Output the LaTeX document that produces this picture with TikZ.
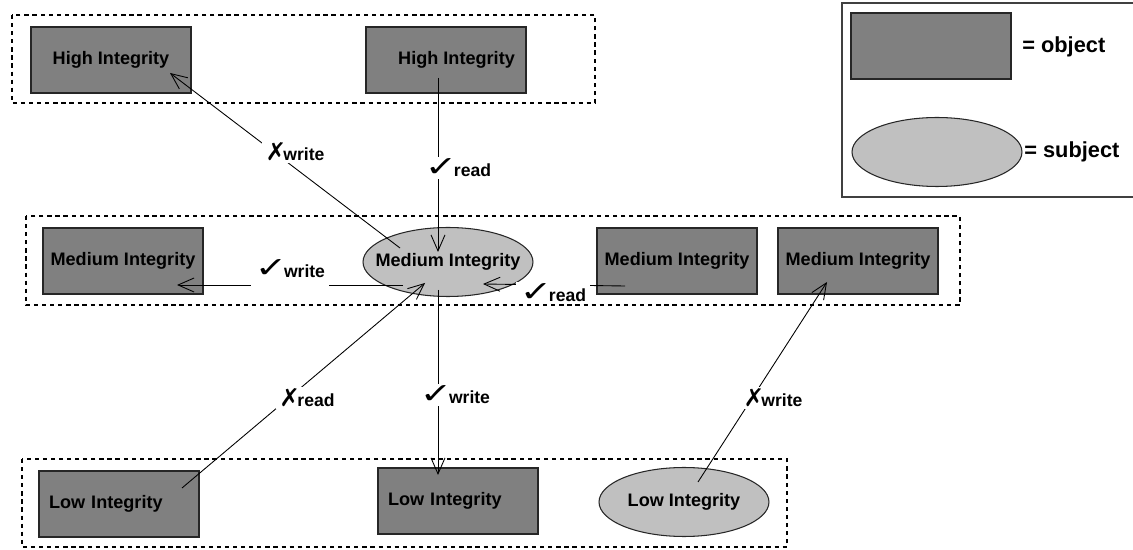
\documentclass[tikz,border=0pt]{standalone}
\usepackage{fontspec}
\setmainfont{Liberation Sans}
\newfontfamily\marksfont{DejaVu Sans}
\usepackage{graphicx}
\usepackage{tikz}
\usetikzlibrary{arrows.meta,shapes.geometric,calc}
\definecolor{objgray}{HTML}{808080}
\definecolor{subjgray}{HTML}{C0C0C0}
\definecolor{edgegray}{HTML}{262626}
\newcommand{\okmark}{{\marksfont\fontsize{13}{13}\selectfont\scalebox{1.7}[1.25]{✓}}\kern-2pt}
\newcommand{\nomark}{{\marksfont\fontsize{14}{14}\selectfont ✗}\kern-1.5pt}

\begin{document}
\begin{tikzpicture}[
  x=0.02cm, y=-0.02cm,
  objbox/.style={
    draw=edgegray,
    fill=objgray,
    line width=0.7pt,
    minimum width=3.2cm,
    minimum height=1.32cm,
    font=\fontsize{10.3}{12}\selectfont\bfseries
  },
  lowtext/.style={
    text width=2.8cm,
    align=left,
    inner xsep=0.2cm
  },
  subjell/.style={
    ellipse,
    draw=edgegray,
    fill=subjgray,
    line width=0.6pt,
    minimum width=3.4cm,
    minimum height=1.38cm,
    inner xsep=-0.3cm,
    inner ysep=0pt,
    font=\fontsize{10.3}{12}\selectfont\bfseries
  },
  level/.style={
    draw=black,
    dash pattern=on 2.4pt off 2.2pt,
    line width=0.6pt
  },
  connector/.style={
    -{Straight Barb[length=3.2mm,width=2.8mm]},
    draw=black,
    line width=0.5pt
  },
  perm/.style={
    fill=white,
    inner xsep=2pt,
    inner ysep=1pt,
    font=\fontsize{10}{12}\selectfont\bfseries
  },
  legtext/.style={
    anchor=west,
    inner sep=0pt,
    font=\fontsize{12.4}{14}\selectfont\bfseries
  }
]
\useasboundingbox (0,0) rectangle (1133,550);

% integrity levels
\draw[level] (12,15) rectangle (595,103);
\draw[level] (26,216) rectangle (960,305);
\draw[level] (22,459) rectangle (787,547);

% high
\node[objbox] (hiLeft) at (111,60) {High Integrity};
\node[objbox] (hiRight) at (446,60) {\hspace{12pt}High Integrity};
% medium
\node[objbox] (medLeft) at (123,261) {Medium Integrity};
\node[subjell] (medSubj) at (448,262) {Medium Integrity};
\node[objbox] (medMid) at (677,261) {Medium Integrity};
\node[objbox] (medRight) at (858,261) {Medium Integrity};
% low
\node[objbox, lowtext] (lowLeft) at (119,504) {Low Integrity};
\node[objbox, lowtext] (lowMid) at (458,501) {Low Integrity};
\node[subjell] (lowSubj) at (684,502) {Low Integrity};

% legend
\draw[draw=black!75, line width=0.6pt] (842,3) rectangle (1140,197);
\node[objbox] (legObj) at (931,46) {};
\node[subjell] (legSubj) at (937,152) {};
\node[legtext] (legObjText) at (1022,47) {= object};
\node[legtext] (legSubjText) at (1024,152) {= subject};

% accesses
\draw[connector] ($(medSubj)+(-48,-14)$) -- ($(hiLeft)+(59,13)$);
\draw[connector] ($(hiRight)+(-8,18)$) -- ($(medSubj)+(-10,-10)$);
\draw[connector] ($(medSubj)+(-45,23)$) -- ($(medLeft)+(54,24)$);
\draw[connector] ($(medMid)+(-52,25)$) -- ($(medSubj)+(35,22)$);
\draw[connector] ($(lowLeft)+(63,-16)$) -- ($(medSubj)+(-23,21)$);
\draw[connector] ($(medSubj)+(-10,28)$) -- ($(lowMid)+(-20,-26)$);
\draw[connector] ($(lowSubj)+(14,-20)$) -- ($(medRight)+(-31,21)$);

\node[perm] (noWriteUp) at (295,152) {\nomark write};
\node[perm] (readDown) at (458,168) {\okmark read};
\node[perm, text depth=6pt] (writeSame) at (290,274) {\okmark write};
\node[perm] (readSame) at (553,293) {\okmark read};
\node[perm] (noReadDown) at (307,398) {\nomark read};
\node[perm] (writeDown) at (455,395) {\okmark write};
\node[perm] (noWriteUpLow) at (773,398) {\nomark write};
\end{tikzpicture}
\end{document}
